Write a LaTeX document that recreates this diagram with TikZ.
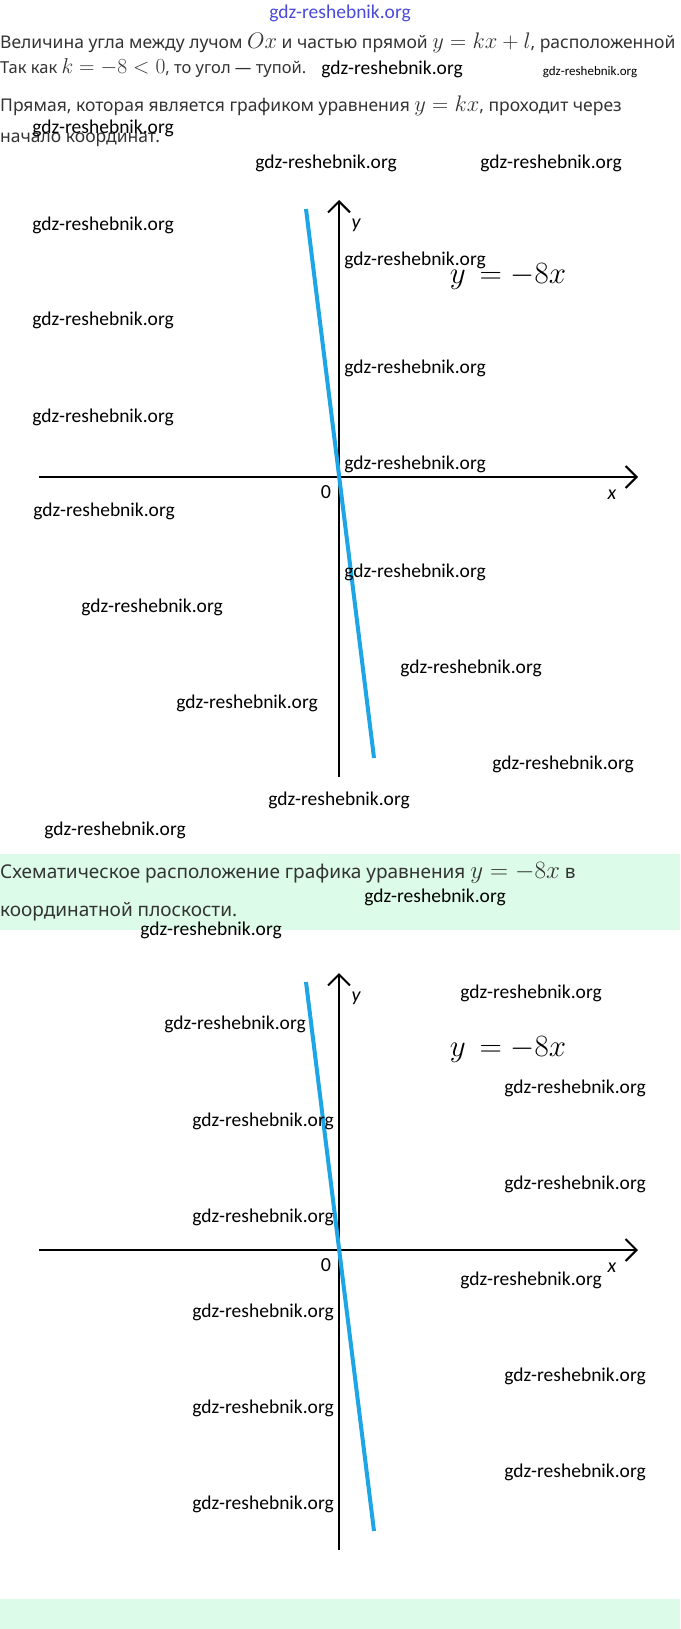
\RequirePackage{fix-cm}
\documentclass[tikz,border=0pt]{standalone}
\usepackage{fontspec}
\setmainfont{Noto Sans}
\newfontfamily\wmfont{Carlito}
\usetikzlibrary{arrows.meta,positioning}
\definecolor{mint}{HTML}{DCFCE9}
\definecolor{linecyan}{HTML}{1DA5E6}
\definecolor{txtgray}{HTML}{333333}
\definecolor{wmblue}{HTML}{4A4AD8}
\newcommand{\inmath}[1]{{\fontsize{22.5}{24}\selectfont$#1$}}
\newcommand{\bandmath}[1]{{\fontsize{25}{27}\selectfont$#1$}}

\begin{document}
\begin{tikzpicture}[x=1pt,y=-1pt,
	txt/.style={anchor=west,inner sep=0pt,text=txtgray,font=\fontsize{17.5}{19}\selectfont},
	bandtxt/.style={txt,font=\fontsize{19}{21}\selectfont},
	wm/.style={inner sep=0pt,font=\wmfont\fontsize{19.5}{20}\selectfont},
	axis/.style={line width=2pt,-{Straight Barb[length=11pt,width=22pt,line width=2pt]}},
	graph/.style={line width=4pt,linecyan},
	lbl/.style={inner sep=0pt,font=\wmfont\fontsize{20}{22}\selectfont},
	eqn/.style={inner sep=0pt,font=\fontsize{31}{33}\selectfont},]
	\useasboundingbox (0,0) rectangle (680,1629);
	\fill[mint] (0,854) rectangle (680,930);
	\fill[mint] (0,1599) rectangle (680,1629);

	\node [txt] (t1) at (0,43) {Величина угла между лучом \inmath{Ox} и частью прямой \inmath{y=kx+l}, расположенной};
	\node [txt,font=\fontsize{16.5}{18}\selectfont] (t2) at (0,68) {Так как {\fontsize{21.5}{23}\selectfont$k=-8<0$}, то угол — тупой.};
	\node [txt] (t3) at (0,106) {Прямая, которая является графиком уравнения \inmath{y=kx}, проходит через};
	\node [txt] (t4) at (0,140) {начало координат.};
	\node [bandtxt] (s1) at (0,873) {Схематическое расположение графика уравнения \bandmath{y=-8x} в};
	\node [bandtxt] (s2) at (0,912) {координатной плоскости.};

	\foreach \g/\oy in {1/477,2/1250}{
		\coordinate (xl\g) at (39,\oy);
		\coordinate (xr\g) at (638,\oy);
		\coordinate (yb\g) at (339,\oy+300);
		\coordinate (yt\g) at (339,\oy-277);
		\coordinate (lt\g) at (306,\oy-268);
		\coordinate (lb\g) at (374,\oy+281);
		\draw [axis] (xl\g) -- (xr\g);
		\draw [axis] (yb\g) -- (yt\g);
		\draw [graph] (lt\g) -- (lb\g);
		\node [lbl,font=\wmfont\itshape\fontsize{20}{22}\selectfont] (ly\g) at (356,\oy-252) {y};
		\node [lbl,font=\wmfont\itshape\fontsize{20}{22}\selectfont] (lx\g) at (612,\oy+18) {x};
		\node [lbl] (lo\g) at (326,\oy+15) {0};
		\node [eqn] (eq\g) at (508,\oy-200) {$y\,=-8x$};
	}

	\node [wm,text=wmblue] (wtop) at (340,13) {gdz-reshebnik.org};
	\node [wm,font=\wmfont\fontsize{13}{14}\selectfont] (wsmall) at (590,72) {gdz-reshebnik.org};
	\foreach \wx/\wy [count=\i] in {392/69,103/128,
		326/163,551/163,103/225,103/320,103/417,415/260,415/368,415/464,
		104/511,415/572,152/607,471/668,247/703,563/764,339/800,115/830,
		435/897,211/930,
		531/993,235/1024,575/1088,263/1121,575/1184,263/1217,531/1280,
		263/1312,575/1376,263/1408,575/1472,263/1504}
		\node [wm] (wm\i) at (\wx,\wy) {gdz-reshebnik.org};
\end{tikzpicture}
\end{document}
